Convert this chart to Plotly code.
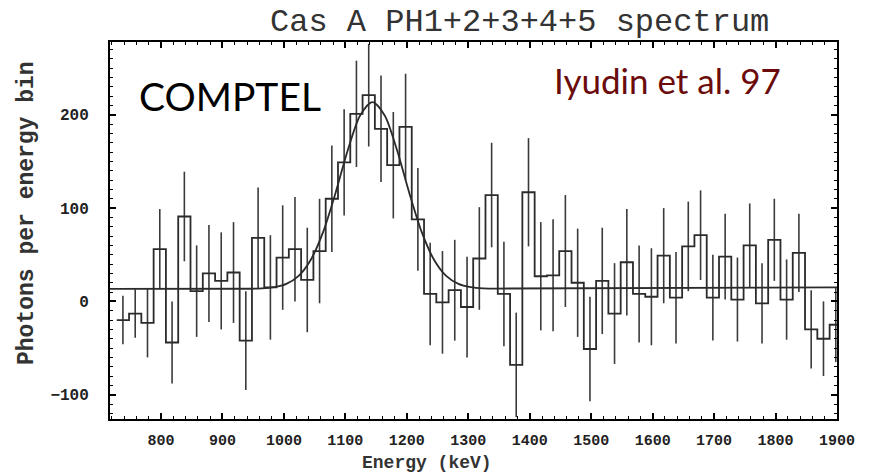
import plotly.graph_objects as go

# ---------------- data ----------------
BIN_WIDTH = 20  # keV
BIN_CENTERS = [738 + BIN_WIDTH * k for k in range(59)]  # keV

COUNTS = [-20, -13, -23, 56, -44, 91, 11, 30, 22, 31,
          -42, 68, 15, 47, 56, 23, 54, 110, 149, 201,
          221, 185, 146, 187, 88, 8, -1, 12, -6, 46,
          114, 8, -68, 117, 27, 28, 54, 20, -51, 22,
          -13, 42, 8, 5, 49, 4, 59, 71, 4, 48,
          2, 60, -2, 66, 2, 52, -30, -40, -25]

ERRORS = [26, 26, 37, 43, 44, 48, 49, 52, 52, 54,
          53, 54, 56, 56, 56, 56, 56, 57, 57, 57,
          55, 57, 57, 57, 55, 55, 55, 54, 54, 55,
          56, 56, 56, 58, 58, 60, 60, 58, 56, 57,
          54, 57, 52, 52, 51, 49, 48, 48, 46, 46,
          45, 45, 43, 44, 43, 42, 42, 40, 40]

# fitted line (constant + 1157 keV line)
FIT_E = [717, 944, 964, 984, 1004, 1024, 1044, 1064, 1084, 1104, 1124, 1144,
         1164, 1184, 1204, 1224, 1244, 1264, 1284, 1304, 1324, 1344, 1900]
FIT_Y = [13.5, 13.6, 14, 15.3, 18.8, 27.4, 45, 74.8, 116.3, 162.3, 199.3, 213.5,
         199.3, 162.3, 116.3, 74.8, 45, 27.4, 18.8, 15.3, 14, 13.8, 15]

X_TICKS = [800, 900, 1000, 1100, 1200, 1300, 1400, 1500, 1600, 1700, 1800, 1900]
Y_TICKS = [-100, 0, 100, 200]
X_RANGE = [717, 1900]
Y_RANGE = [-126, 278]

TITLE = "Cas A PH1+2+3+4+5 spectrum"
X_TITLE = "Energy (keV)"
Y_TITLE = "Photons per energy bin"
LABEL_LEFT = "COMPTEL"
LABEL_RIGHT = "Iyudin et al. 97"

# ---------------- figure ----------------
W, H = 872, 475
ML, MR, MT, MB = 110, 35, 42, 56
PW, PH = W - ML - MR, H - MT - MB


def px(x):
    return (x - ML) / PW


def py(y):
    return (H - MB - y) / PH


# step outline from bin edges
edges = [c - BIN_WIDTH / 2 for c in BIN_CENTERS] + [BIN_CENTERS[-1] + BIN_WIDTH / 2]
step_y = COUNTS + [COUNTS[-1]]

LINE = "#2b2b2b"
MONO = "Liberation Mono"

fig = go.Figure()
fig.add_trace(go.Scatter(
    x=BIN_CENTERS, y=COUNTS, mode="markers",
    marker=dict(size=1, color="rgba(0,0,0,0)"),
    error_y=dict(type="data", array=ERRORS, symmetric=True,
                 thickness=1.6, width=0, color="#3a3a3a"),
    showlegend=False, hoverinfo="skip"))
fig.add_trace(go.Scatter(
    x=edges, y=step_y, mode="lines", line=dict(shape="hv", color=LINE, width=1.8),
    showlegend=False))
fig.add_trace(go.Scatter(
    x=FIT_E, y=FIT_Y, mode="lines",
    line=dict(shape="spline", smoothing=0.8, color=LINE, width=1.8),
    showlegend=False))

axis_common = dict(
    showline=True, linecolor="black", linewidth=2, mirror="allticks",
    ticks="inside", ticklen=6, tickwidth=1.5, tickcolor="black",
    showgrid=False, zeroline=False,
)

fig.update_xaxes(range=X_RANGE, tickmode="array", tickvals=X_TICKS,
                 minor=dict(ticks="inside", dtick=20, ticklen=3, tickwidth=1.2,
                            tickcolor="black", showgrid=False),
                 tickfont=dict(family=MONO, size=15, color="#222", weight="bold"),
                 ticklabelstandoff=6, **axis_common)
fig.update_yaxes(range=Y_RANGE, tickmode="array", tickvals=Y_TICKS,
                 minor=dict(ticks="inside", dtick=10, ticklen=3, tickwidth=1.2,
                            tickcolor="black", showgrid=False),
                 tickfont=dict(family=MONO, size=16, color="#222", weight="bold"),
                 ticklabelstandoff=16, **axis_common)

annotations = [
    dict(text=TITLE, x=px(519), y=py(2), xref="paper", yref="paper",
         showarrow=False, xanchor="center", yanchor="top",
         font=dict(family=MONO, size=32, color="#333")),
    dict(text=X_TITLE, x=px(427), y=py(475), xref="paper", yref="paper",
         showarrow=False, xanchor="center", yanchor="bottom",
         font=dict(family=MONO, size=18, color="#333", weight="bold")),
    dict(text=Y_TITLE, x=px(27), y=py(213), xref="paper", yref="paper",
         showarrow=False, xanchor="center", yanchor="middle", textangle=-90,
         font=dict(family=MONO, size=23, color="#333", weight="bold")),
    dict(text=LABEL_LEFT, x=px(230), y=py(96), xref="paper", yref="paper",
         showarrow=False, xanchor="center", yanchor="middle",
         font=dict(family="Lato", size=39, color="black")),
    dict(text=LABEL_RIGHT, x=px(667), y=py(80), xref="paper", yref="paper",
         showarrow=False, xanchor="center", yanchor="middle",
         font=dict(family="Lato", size=35, color="#6b0b0b")),
]

fig.update_layout(
    width=W, height=H,
    margin=dict(l=ML, r=MR, t=MT, b=MB, pad=0),
    paper_bgcolor="white", plot_bgcolor="white",
    annotations=annotations,
    showlegend=False,
)

fig.write_html("out.html")
